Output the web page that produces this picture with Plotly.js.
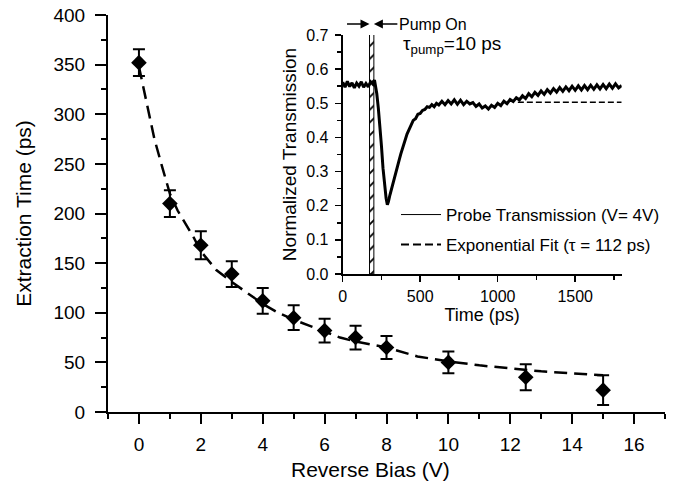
<!DOCTYPE html>
<html>
<head>
<meta charset="utf-8">
<script src="https://cdn.plot.ly/plotly-3.0.1.min.js"></script>
<style>html,body{margin:0;padding:0;background:#fff;}#chart{width:693px;height:488px;}</style>
</head>
<body>
<div id="chart"></div>
<script>
// ---- Main plot: extraction time vs reverse bias ----
const biasV = [0, 1, 2, 3, 4, 5, 6, 7, 8, 10, 12.5, 15];
const extractionPs = [352, 210, 168, 139, 112, 95, 82, 75, 65, 50, 35, 22];
const extractionErr = [13.5, 13.5, 14, 13, 13, 12.5, 12, 12, 11.5, 11, 13, 15];

const fitBiasV = [0, 0.25, 0.5, 0.75, 1, 1.25, 1.5, 1.75, 2, 2.5, 3, 3.5, 4, 4.5, 5, 5.5, 6, 6.5, 7, 7.5, 8, 9, 10, 11, 12, 13, 14, 15];
const fitExtractionPs = [348, 311, 275, 247, 220, 203, 190, 177, 162, 143, 131, 120, 109, 100, 93, 87, 81, 75, 71, 68, 65, 56, 51, 47, 44, 41, 39, 37];

const mainXTicks = [0, 2, 4, 6, 8, 10, 12, 14, 16];
const mainYTicks = [0, 50, 100, 150, 200, 250, 300, 350, 400];

// ---- Inset: probe transmission vs time ----
const timePs = [0,15,30,45,60,75,90,105,120,135,150,165,180,195,205,212,220,230,240,250,260,270,280,288,295,305,315,325,335,345,355,365,375,385,395,405,415,425,435,445,455,470,485,500,515,530,545,560,575,590,605,620,640,660,680,700,720,740,760,780,800,820,840,860,880,900,920,940,960,980,1000,1020,1040,1060,1080,1100,1120,1140,1160,1180,1200,1220,1240,1260,1280,1300,1320,1340,1360,1380,1400,1420,1440,1460,1480,1500,1520,1540,1560,1580,1600,1620,1640,1660,1680,1700,1720,1740,1760,1780,1800];
const transmission = [0.562,0.547,0.564,0.549,0.560,0.545,0.559,0.550,0.563,0.547,0.558,0.548,0.563,0.556,0.568,0.552,0.528,0.485,0.438,0.375,0.310,0.262,0.222,0.203,0.212,0.232,0.248,0.268,0.285,0.300,0.318,0.335,0.352,0.368,0.383,0.398,0.410,0.420,0.432,0.438,0.450,0.455,0.468,0.470,0.479,0.482,0.490,0.488,0.496,0.490,0.500,0.495,0.506,0.496,0.508,0.498,0.510,0.497,0.509,0.496,0.506,0.498,0.502,0.491,0.498,0.486,0.492,0.483,0.494,0.488,0.500,0.493,0.506,0.499,0.511,0.505,0.516,0.510,0.522,0.514,0.528,0.519,0.532,0.523,0.536,0.526,0.540,0.530,0.543,0.533,0.546,0.535,0.548,0.537,0.550,0.538,0.551,0.539,0.552,0.540,0.553,0.541,0.554,0.542,0.555,0.543,0.556,0.544,0.557,0.545,0.552];

const fitTimePs = [1130, 1800];
const fitTransmission = [0.503, 0.503];

const pumpCenterPs = [187];
const pumpWidthPs = [28];
const pumpBarHeight = [0.75];

const insetXTicks = [0, 500, 1000, 1500];
const insetYTicks = [0, 0.1, 0.2, 0.3, 0.4, 0.5, 0.6, 0.7];

const FONT = 'Liberation Sans, Arial, Helvetica, sans-serif';

const traces = [
  {
    x: fitBiasV, y: fitExtractionPs, xaxis: 'x', yaxis: 'y', type: 'scatter', mode: 'lines',
    line: {color: '#000', width: 2.5, dash: '13px,7px'}, showlegend: false, hoverinfo: 'skip'
  },
  {
    x: biasV, y: extractionPs, xaxis: 'x', yaxis: 'y', type: 'scatter', mode: 'markers',
    marker: {symbol: 'diamond', size: 12, color: '#000'},
    error_y: {type: 'data', array: extractionErr, visible: true, color: '#000', thickness: 2, width: 6},
    showlegend: false
  },
  {
    x: pumpCenterPs, y: pumpBarHeight, width: pumpWidthPs, xaxis: 'x2', yaxis: 'y2', type: 'bar',
    marker: {color: '#fff', line: {color: '#000', width: 1},
      pattern: {shape: '/', fgcolor: '#000', bgcolor: '#fff', size: 9, solidity: 0.2}},
    cliponaxis: false, showlegend: false, hoverinfo: 'skip'
  },
  {
    x: fitTimePs, y: fitTransmission, xaxis: 'x2', yaxis: 'y2', type: 'scatter', mode: 'lines',
    name: 'Exponential Fit (\u03c4 = 112 ps)', legendgroup: 'fit', showlegend: false,
    line: {color: '#000', width: 1.5, dash: '6px,3px'}
  },
  {
    x: timePs, y: transmission, xaxis: 'x2', yaxis: 'y2', type: 'scatter', mode: 'lines',
    name: 'Probe Transmission (V= 4V)', legendgroup: 'probe', showlegend: false,
    line: {color: '#000', width: 3}
  },
  // legend entries (thin sample lines as in the reference)
  {
    x: [null], y: [null], xaxis: 'x2', yaxis: 'y2', type: 'scatter', mode: 'lines',
    name: 'Probe Transmission (V= 4V)', legendgroup: 'probe', legend: 'legend',
    line: {color: '#000', width: 1}
  },
  {
    x: [null], y: [null], xaxis: 'x2', yaxis: 'y2', type: 'scatter', mode: 'lines',
    name: 'Exponential Fit (\u03c4 = 112 ps)', legendgroup: 'fit', legend: 'legend2',
    line: {color: '#000', width: 2, dash: '8px,4px'}
  }
];

// geometry helpers (px -> paper) for placement only
const L = 108, R = 665, T = 15, B = 412;
const px = v => (v - L) / (R - L);
const py = v => (B - v) / (B - T);

const layout = {
  width: 693, height: 488,
  margin: {l: L, r: 693 - R, t: T, b: 488 - B},
  paper_bgcolor: '#fff', plot_bgcolor: 'rgba(0,0,0,0)',
  font: {family: FONT, color: '#000'},
  xaxis: {
    domain: [0, 1], range: [-1, 17], tickvals: mainXTicks, ticktext: mainXTicks.map(String),
    showline: true, linecolor: '#000', linewidth: 2, zeroline: false, showgrid: false,
    ticks: 'outside', ticklen: 10, tickwidth: 2, tickcolor: '#000', ticklabelstandoff: 4,
    minor: {dtick: 1, tick0: 0, ticks: 'outside', ticklen: 5, tickwidth: 2, tickcolor: '#000', showgrid: false},
    tickfont: {size: 19, family: FONT},
    anchor: 'y', automargin: false
  },
  yaxis: {
    domain: [0, 1], range: [0, 400], tickvals: mainYTicks, ticktext: mainYTicks.map(String),
    showline: true, linecolor: '#000', linewidth: 2, zeroline: false, showgrid: false,
    ticks: 'outside', ticklen: 11, tickwidth: 2, tickcolor: '#000', ticklabelstandoff: 6,
    minor: {dtick: 25, tick0: 0, ticks: 'outside', ticklen: 5, tickwidth: 2, tickcolor: '#000', showgrid: false},
    tickfont: {size: 19, family: FONT},
    title: {text: 'Extraction Time (ps)', font: {size: 21, family: FONT}, standoff: 16},
    anchor: 'x', automargin: false
  },
  xaxis2: {
    domain: [px(342.7), px(621.7)], range: [0, 1800], tickvals: insetXTicks, ticktext: insetXTicks.map(String),
    showline: true, linecolor: '#000', linewidth: 2, zeroline: false, showgrid: false,
    ticks: 'outside', ticklen: 6, tickwidth: 1.5, tickcolor: '#000', ticklabelstandoff: 1,
    minor: {dtick: 250, tick0: 0, ticks: 'outside', ticklen: 4, tickwidth: 1.5, tickcolor: '#000', showgrid: false},
    tickfont: {size: 16, family: FONT},
    title: {text: 'Time (ps)', font: {size: 18, family: FONT}, standoff: 0},
    anchor: 'y2', automargin: false
  },
  yaxis2: {
    domain: [py(274), py(35)], range: [0, 0.7], tickvals: insetYTicks, ticktext: insetYTicks.map(v => v.toFixed(1)),
    showline: true, linecolor: '#000', linewidth: 2, zeroline: false, showgrid: false,
    ticks: 'outside', ticklen: 6, tickwidth: 1.5, tickcolor: '#000', ticklabelstandoff: 3,
    minor: {dtick: 0.05, tick0: 0, ticks: 'outside', ticklen: 4, tickwidth: 1.5, tickcolor: '#000', showgrid: false},
    tickfont: {size: 16, family: FONT},
    title: {text: 'Normalized Transmission', font: {size: 19, family: FONT}, standoff: 5},
    anchor: 'x2', automargin: false
  },
  bargap: 0,
  legend: {
    x: px(396), y: py(215), xanchor: 'left', yanchor: 'middle',
    bgcolor: 'rgba(0,0,0,0)', borderwidth: 0, font: {size: 17, family: FONT}, itemwidth: 40
  },
  legend2: {
    x: px(396), y: py(245), xanchor: 'left', yanchor: 'middle',
    bgcolor: 'rgba(0,0,0,0)', borderwidth: 0, font: {size: 17, family: FONT}, itemwidth: 40
  },
  annotations: [
    {
      xref: 'paper', yref: 'paper', x: px(370), y: py(469), xanchor: 'center', yanchor: 'middle',
      text: 'Reverse Bias (V)', showarrow: false, font: {size: 21, family: FONT}
    },
    {
      xref: 'x2', yref: 'paper', x: 173, y: py(24), text: '', showarrow: true,
      ax: -24, ay: 0, arrowhead: 2, arrowsize: 1.2, arrowwidth: 1.5, arrowcolor: '#000'
    },
    {
      xref: 'x2', yref: 'paper', x: 201, y: py(24), text: 'Pump On', showarrow: true,
      ax: 59, ay: 0, arrowhead: 2, arrowsize: 1.2, arrowwidth: 1.5, arrowcolor: '#000',
      font: {size: 16, family: FONT}
    },
    {
      xref: 'paper', yref: 'paper', x: px(401), y: py(45), xanchor: 'left', yanchor: 'middle',
      text: '\u03c4<sub>pump</sub>=10 ps', showarrow: false, font: {size: 19, family: FONT}
    }
  ]
};

Plotly.newPlot('chart', traces, layout, {displayModeBar: false, staticPlot: true});
</script>
</body>
</html>
